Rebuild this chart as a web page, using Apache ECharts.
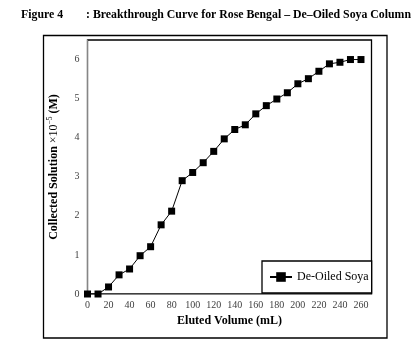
<!DOCTYPE html>
<html>
<head>
<meta charset="utf-8">
<script src="https://cdn.jsdelivr.net/npm/echarts@6/dist/echarts.min.js"></script>
<style>html,body{margin:0;padding:0;background:#fff;}#c{width:420px;height:349px;}</style>
</head>
<body>
<div id="c"></div>
<script>
const volumes = [0,10,20,30,40,50,60,70,80,90,100,110,120,130,140,150,160,170,180,190,200,210,220,230,240,250,260];
const collected = [0,0,0.18,0.49,0.64,0.98,1.21,1.77,2.12,2.90,3.11,3.36,3.65,3.97,4.21,4.33,4.61,4.82,4.99,5.15,5.38,5.51,5.70,5.89,5.93,6.00,6.00];
const seriesName = 'De-Oiled Soya';
const titleLeft = 'Figure 4';
const titleRight = ': Breakthrough Curve for Rose Bengal \u2013 De\u2013Oiled Soya Column';

const serif = '"Liberation Serif","Times New Roman",serif';
const chart = echarts.init(document.getElementById('c'), null, {renderer: 'canvas'});
chart.setOption({
  backgroundColor: '#fff',
  animation: false,
  title: [
    {text: titleLeft, left: 16, top: 4, textStyle: {fontFamily: serif, fontWeight: 'bold', fontSize: 11.8, color: '#000'}},
    {text: titleRight, left: 81, top: 4, textStyle: {fontFamily: serif, fontWeight: 'bold', fontSize: 11.8, color: '#000'}}
  ],
  graphic: [
    {type: 'rect', shape: {x: 43.5, y: 35.5, width: 343.5, height: 302.5}, style: {fill: 'none', stroke: '#000', lineWidth: 1.3}, z: 0, silent: true}
  ],
  grid: {left: 87.5, top: 40, right: 48.5, bottom: 55, show: true, borderColor: '#000', borderWidth: 1.3, backgroundColor: 'transparent'},
  legend: {
    data: [seriesName], left: 262, top: 261, orient: 'vertical',
    backgroundColor: '#fff', borderColor: '#000', borderWidth: 1.3,
    padding: [10, 3, 10, 7], itemWidth: 22, itemHeight: 12,
    textStyle: {fontFamily: serif, fontSize: 12, color: '#000'}
  },
  xAxis: {
    type: 'value', min: 0, max: 270, interval: 20,
    name: 'Eluted Volume (mL)', nameLocation: 'middle', nameGap: 15,
    nameTextStyle: {fontFamily: serif, fontWeight: 'bold', fontSize: 12, color: '#000'},
    axisLine: {show: true, lineStyle: {color: '#868686', width: 1}},
    axisTick: {show: false},
    splitLine: {show: false},
    axisLabel: {fontFamily: serif, fontSize: 10, color: '#404040', margin: 6, showMaxLabel: false}
  },
  yAxis: {
    type: 'value', min: 0, max: 6.5, interval: 1,
    name: '{b|Collected Solution }{n|\u00d710}{s|\u22125}{b| (M)}', nameLocation: 'middle', nameGap: 27,
    nameTextStyle: {
      fontFamily: serif, fontSize: 12, color: '#000',
      rich: {
        b: {fontFamily: serif, fontWeight: 'bold', fontSize: 12, color: '#000', lineHeight: 14},
        n: {fontFamily: serif, fontSize: 12, color: '#000', lineHeight: 14},
        s: {fontFamily: serif, fontSize: 7.5, color: '#000', verticalAlign: 'top', lineHeight: 14}
      }
    },
    axisLine: {show: true, lineStyle: {color: '#868686', width: 1}},
    axisTick: {show: false},
    splitLine: {show: false},
    axisLabel: {fontFamily: serif, fontSize: 10, color: '#404040', margin: 8, showMaxLabel: false}
  },
  series: [{
    name: seriesName, type: 'line',
    data: volumes.map((v, i) => [v, collected[i]]),
    symbol: 'rect', symbolSize: 7,
    itemStyle: {color: '#000'},
    lineStyle: {color: '#000', width: 1},
    z: 3
  }]
});
</script>
</body>
</html>
